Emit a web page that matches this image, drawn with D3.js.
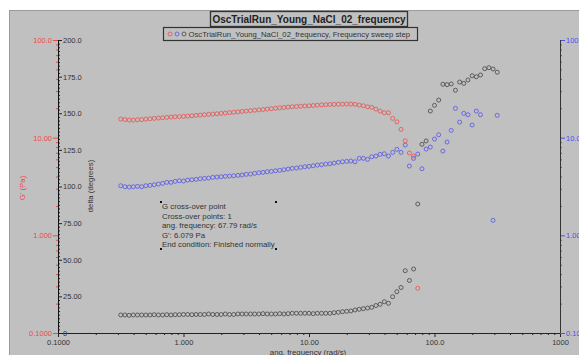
<!DOCTYPE html>
<html>
<head>
<meta charset="utf-8">
<script src="https://cdn.jsdelivr.net/npm/d3@7"></script>
<style>
  html, body { margin: 0; padding: 0; background: #fff; }
  svg { display: block; font-family: "Liberation Sans", Arial, sans-serif; }
</style>
</head>
<body>
<div id="chart"></div>
<script>
// angular frequency (rad/s), one entry per measured step
const frequencies = [
  0.3162, 0.3415, 0.3687, 0.3981, 0.4299, 0.4642, 0.5012, 0.5412, 0.5843, 0.6310, 0.6813, 0.7356, 0.7943, 0.8577, 0.9261,
  1.000, 1.080, 1.166, 1.259, 1.359, 1.468, 1.585, 1.711, 1.848, 1.995, 2.154, 2.326, 2.512, 2.712, 2.929,
  3.162, 3.415, 3.687, 3.981, 4.299, 4.642, 5.012, 5.412, 5.843, 6.310, 6.813, 7.356, 7.943, 8.577, 9.261,
  10.00, 10.80, 11.66, 12.59, 13.59, 14.68, 15.85, 17.11, 18.48, 19.95, 21.54, 23.26, 25.12, 27.12, 29.29,
  31.62, 34.15, 36.87, 39.81, 42.99, 46.42, 50.12, 54.12, 58.43, 63.10, 68.13, 73.56, 79.43, 85.77, 92.61,
  100.0, 108.0, 116.6, 125.9, 135.9, 146.8, 158.5, 171.1, 184.8, 199.5, 215.4, 232.6, 251.2, 271.2, 292.9,
  316.2
];

// G' (Pa) - red, left log axis
const storageModulus = [
  15.50, 15.32, 15.14, 15.14, 15.25, 15.32, 15.50, 15.61, 15.75, 15.87,
  15.98, 16.13, 16.25, 16.36, 16.44, 16.52, 16.64, 16.76, 16.92, 17.04,
  17.16, 17.32, 17.45, 17.57, 17.74, 17.86, 18.03, 18.20, 18.37, 18.55,
  18.72, 18.90, 19.08, 19.26, 19.44, 19.62, 19.81, 20.00, 20.18, 20.38,
  20.57, 20.72, 20.86, 21.01, 21.11, 21.21, 21.36, 21.51, 21.67, 21.77,
  21.87, 21.93, 21.98, 22.03, 22.08, 22.08, 21.93, 21.57, 21.21, 20.72,
  20.42, 19.62, 18.72, 17.98, 17.98, 15.75, 14.54, 12.16, 9.30, 6.96,
  6.48, 0.287, null, null, null, null, null, null, null, null,
  null, null, null, null, null, null, null, null, null, null,
  null
];

// G'' (Pa) - blue, right log axis
const lossModulus = [
  3.219, 3.144, 3.122, 3.144, 3.173, 3.144, 3.219, 3.249, 3.295, 3.350,
  3.406, 3.487, 3.487, 3.570, 3.621, 3.595, 3.681, 3.707, 3.742, 3.795,
  3.831, 3.858, 3.922, 3.950, 3.979, 4.016, 4.045, 4.074, 4.112, 4.142,
  4.211, 4.240, 4.311, 4.372, 4.413, 4.477, 4.519, 4.583, 4.627, 4.692,
  4.771, 4.850, 4.884, 4.966, 5.036, 5.084, 5.156, 5.242, 5.279, 5.367,
  5.406, 5.495, 5.586, 5.666, 5.720, 5.761, 5.666, 6.140, 6.140, 5.997,
  6.376, 6.482, 6.747, 6.843, 6.482, 7.072, 7.590, 7.072, 8.402, 5.120,
  6.140, 6.795, 4.805, 7.644, 8.013, 9.676, 10.71, 7.292, 9.016, 11.88,
  19.95, 14.44, 17.74, 17.16, 13.46, 18.72, 17.16, null, null, 1.424,
  16.92
];

// delta (degrees) - gray, linear axis
const deltaDegrees = [
  12.29, 12.29, 12.08, 12.29, 12.29, 12.29, 12.29, 12.29, 12.49, 12.29,
  12.29, 12.49, 12.29, 12.49, 12.49, 12.63, 12.63, 12.49, 12.63, 12.63,
  12.63, 12.97, 12.63, 12.63, 12.63, 12.97, 12.63, 12.63, 12.97, 12.97,
  12.97, 12.97, 12.97, 12.97, 13.20, 12.97, 12.97, 12.97, 13.20, 12.97,
  13.20, 13.45, 13.45, 13.45, 13.45, 13.45, 13.20, 13.45, 13.45, 13.45,
  13.45, 13.86, 14.13, 14.54, 14.81, 15.02, 15.70, 16.18, 16.59, 17.06,
  17.54, 18.77, 19.59, 21.37, 20.27, 24.78, 28.19, 31.06, 42.53, 35.84,
  43.69, 88.05, 128.8, 131.1, 151.5, 155.4, 159.0, 169.8, 169.5, 170.0,
  165.7, 171.3, 170.4, 172.7, 175.6, 174.9, 176.1, 180.4, 181.1, 180.2,
  178.0
];

const modulusTicks = [0.1, 1, 10, 100];
const modulusTickLabels = ['0.1000', '1.000', '10.00', '100.0'];
const deltaTicks = [0, 25, 50, 75, 100, 125, 150, 175, 200];
const deltaTickLabels = ['0', '25.00', '50.00', '75.00', '100.0', '125.0', '150.0', '175.0', '200.0'];
const freqTicks = [0.1, 1, 10, 100, 1000];
const freqTickLabels = ['0.1000', '1.000', '10.00', '100.0', '1000'];

const chartTitle = 'OscTrialRun_Young_NaCl_02_frequency';
const legendLabel = 'OscTrialRun_Young_NaCl_02_frequency, Frequency sweep step';
const crossOverLines = [
  'G cross-over point',
  'Cross-over points: 1',
  'ang. frequency: 67.79 rad/s',
  'G\': 6.079 Pa',
  'End condition: Finished normally'
];

const W = 579, H = 355;
const plot = {left: 58, right: 560, top: 40, bottom: 333};
const RED = '#e65a5a', BLUE = '#5f5fe6', GRAY = '#505050';
const RED_TXT = '#f04848', BLUE_TXT = '#5050f0', TXT = '#333';

const svg = d3.select('#chart').append('svg')
  .attr('width', W)
  .attr('height', H);

svg.append('rect')
  .attr('x', 9.5).attr('y', 10.5)
  .attr('width', W).attr('height', H)
  .attr('fill', '#c0c0c0')
  .attr('stroke', '#9a9a9a');

// -- scales
const xScale = d3.scaleLog().domain([0.1, 1000]).range([plot.left, plot.right]);
const gScale = d3.scaleLog().domain([0.1, 100]).range([plot.bottom, plot.top]);
const g2Scale = d3.scaleLog().domain([0.1, 100]).range([plot.bottom, plot.top]);
const deltaScale = d3.scaleLinear().domain([0, 200]).range([plot.bottom, plot.top]);

function minorOf(scale, majors) {
  return scale.ticks().filter(t => !majors.some(m => Math.abs(m - t) < 1e-9));
}

function styleAxis(sel, color) {
  sel.selectAll('.domain').remove();
  sel.selectAll('.tick line').attr('stroke', color);
  sel.selectAll('.tick text').attr('fill', color).style('font-size', '7.5px');
  sel.attr('font-family', null);
}

// -- x axis
const xMinor = svg.append('g')
  .attr('transform', 'translate(0,' + plot.bottom + ')')
  .call(d3.axisBottom(xScale).tickValues(minorOf(xScale, freqTicks)).tickSize(2).tickFormat(''));
styleAxis(xMinor, '#222');

const xMajor = svg.append('g')
  .attr('transform', 'translate(0,' + plot.bottom + ')')
  .call(d3.axisBottom(xScale).tickValues(freqTicks).tickSize(4).tickPadding(3)
    .tickFormat((d, i) => freqTickLabels[i]));
styleAxis(xMajor, '#222');
xMajor.selectAll('.tick text').attr('fill', TXT);

svg.append('line')
  .attr('x1', plot.left).attr('x2', plot.right)
  .attr('y1', plot.bottom + 0.5).attr('y2', plot.bottom + 0.5)
  .attr('stroke', '#222');

// -- left G' axis (red, ticks outside)
const gMinor = svg.append('g')
  .attr('transform', 'translate(' + plot.left + ',0)')
  .call(d3.axisLeft(gScale).tickValues(minorOf(gScale, modulusTicks)).tickSize(2).tickFormat(''));
styleAxis(gMinor, RED_TXT);

const gMajor = svg.append('g')
  .attr('transform', 'translate(' + plot.left + ',0)')
  .call(d3.axisLeft(gScale).tickValues(modulusTicks).tickSize(5).tickPadding(1)
    .tickFormat((d, i) => modulusTickLabels[i]));
styleAxis(gMajor, RED_TXT);

// -- delta axis (black, ticks inside)
const deltaMinorTicks = d3.range(0, 200.1, 2.5).filter(v => v % 25 !== 0);
const dMinor = svg.append('g')
  .attr('transform', 'translate(' + plot.left + ',0)')
  .call(d3.axisRight(deltaScale).tickValues(deltaMinorTicks).tickSize(2).tickFormat(''));
styleAxis(dMinor, '#222');

const dMajor = svg.append('g')
  .attr('transform', 'translate(' + plot.left + ',0)')
  .call(d3.axisRight(deltaScale).tickValues(deltaTicks).tickSize(4).tickPadding(1)
    .tickFormat((d, i) => deltaTickLabels[i]));
styleAxis(dMajor, '#222');
dMajor.selectAll('.tick text').attr('fill', TXT);

svg.append('line')
  .attr('x1', plot.left + 0.5).attr('x2', plot.left + 0.5)
  .attr('y1', plot.top).attr('y2', plot.bottom)
  .attr('stroke', '#111');

// -- right G'' axis (blue); labels run off the window edge as in the original export
const rMinor = svg.append('g')
  .attr('transform', 'translate(' + plot.right + ',0)')
  .call(d3.axisRight(g2Scale).tickValues(minorOf(g2Scale, modulusTicks)).tickSize(2).tickFormat(''));
styleAxis(rMinor, BLUE_TXT);

const rMajor = svg.append('g')
  .attr('transform', 'translate(' + plot.right + ',0)')
  .call(d3.axisRight(g2Scale).tickValues(modulusTicks).tickSize(5).tickPadding(1)
    .tickFormat((d, i) => modulusTickLabels[i]));
styleAxis(rMajor, BLUE_TXT);

svg.append('line')
  .attr('x1', plot.right + 0.5).attr('x2', plot.right + 0.5)
  .attr('y1', plot.top).attr('y2', plot.bottom)
  .attr('stroke', '#333');

// -- axis titles
svg.append('text')
  .attr('transform', 'translate(25,188) rotate(-90)')
  .attr('text-anchor', 'middle')
  .attr('fill', RED_TXT)
  .style('font-size', '7.8px')
  .text('G\' (Pa)');

svg.append('text')
  .attr('transform', 'translate(93,186) rotate(-90)')
  .attr('text-anchor', 'middle')
  .attr('fill', TXT)
  .style('font-size', '7.8px')
  .text('delta (degrees)');

svg.append('text')
  .attr('x', 308).attr('y', 355)
  .attr('text-anchor', 'middle')
  .attr('fill', TXT)
  .style('font-size', '7.8px')
  .text('ang. frequency (rad/s)');

// -- title + legend
svg.append('rect')
  .attr('x', 210.5).attr('y', 11.5).attr('width', 197).attr('height', 15)
  .attr('fill', '#c0c0c0').attr('stroke', '#333').attr('stroke-width', 1.3);
svg.append('text')
  .attr('x', 309).attr('y', 23)
  .attr('text-anchor', 'middle')
  .attr('fill', '#222')
  .style('font-size', '10px').style('font-weight', 'bold')
  .text(chartTitle);

svg.append('rect')
  .attr('x', 163.5).attr('y', 27.5).attr('width', 254).attr('height', 13)
  .attr('fill', '#c0c0c0').attr('stroke', '#333').attr('stroke-width', 1.2);
[RED, BLUE, GRAY].forEach((c, i) => {
  svg.append('circle')
    .attr('cx', 170 + i * 7).attr('cy', 34)
    .attr('r', 2)
    .attr('fill', 'none').attr('stroke', c).attr('stroke-width', 0.9);
});
svg.append('text')
  .attr('x', 188.5).attr('y', 37)
  .attr('fill', TXT)
  .style('font-size', '7.7px')
  .text(legendLabel);

// -- cross-over annotation
const note = svg.append('g').attr('class', 'cross-over');
note.selectAll('text')
  .data(crossOverLines).enter()
  .append('text')
  .attr('x', 162)
  .attr('y', (d, i) => 209 + i * 9.6)
  .attr('fill', TXT)
  .style('font-size', '7.8px')
  .text(d => d);
[[161, 202], [276, 202], [161, 249], [276, 249]].forEach(p => {
  note.append('rect')
    .attr('x', p[0] - 1).attr('y', p[1] - 1)
    .attr('width', 2).attr('height', 2)
    .attr('fill', '#111');
});

// -- points
function drawSeries(values, yScale, color) {
  const pts = frequencies.map((f, i) => ({f: f, v: values[i]}))
    .filter(d => d.v !== null && d.v !== undefined);
  svg.append('g')
    .selectAll('circle')
    .data(pts).enter()
    .append('circle')
    .attr('cx', d => xScale(d.f))
    .attr('cy', d => yScale(d.v))
    .attr('r', 2)
    .attr('fill', 'none')
    .attr('stroke', color)
    .attr('stroke-width', 0.9);
}

drawSeries(deltaDegrees, deltaScale, GRAY);
drawSeries(lossModulus, g2Scale, BLUE);
drawSeries(storageModulus, gScale, RED);
</script>
</body>
</html>
